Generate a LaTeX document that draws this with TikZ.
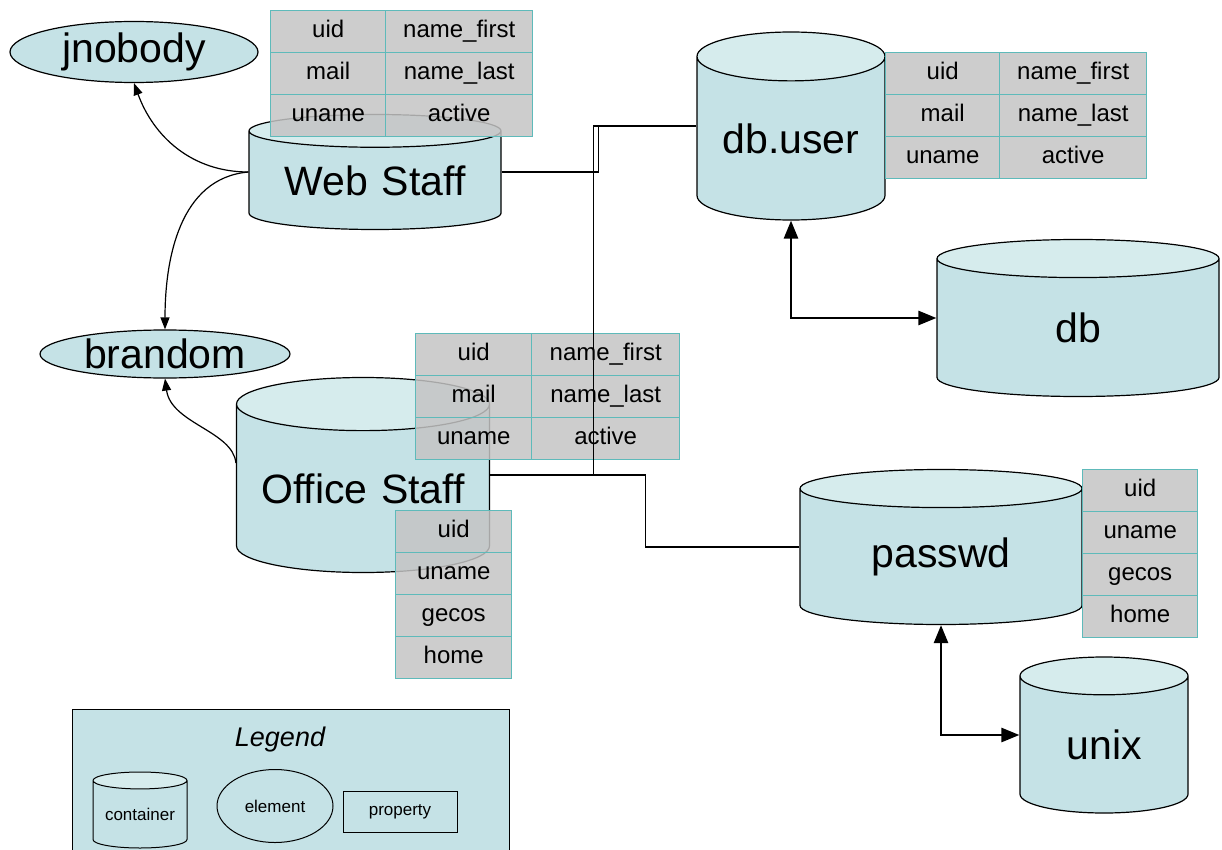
\documentclass[tikz,border=0pt]{standalone}
\usepackage{fontspec}
\setmainfont{Liberation Sans}
\usetikzlibrary{shapes.geometric,matrix,arrows.meta,positioning}
\definecolor{cylbody}{RGB}{197,226,230}
\definecolor{cylend}{RGB}{214,236,237}
\definecolor{cellgray}{RGB}{196,196,196}
\definecolor{cellline}{RGB}{94,186,186}
\tikzset{
  container/.style={cylinder, shape border rotate=90, draw, line width=1.2pt,
    cylinder uses custom fill, cylinder body fill=cylbody, cylinder end fill=cylend,
    inner sep=0pt, align=center, anchor=shape center,
    font=\fontsize{41}{41}\selectfont},
  element/.style={ellipse, draw, line width=1.2pt, fill=cylbody, inner sep=0pt,
    font=\fontsize{41}{41}\selectfont},
  cell/.style={draw=cellline, line width=1pt, fill=cellgray, fill opacity=0.85,
    text opacity=1, minimum height=42pt, inner sep=0pt, text height=17pt,
    text depth=5pt, font=\fontsize{24}{24}\selectfont},
  proptable/.style={matrix of nodes, inner sep=0pt, nodes={cell},
    column sep=-1pt, row sep=-1pt, anchor=north west},
  link/.style={line width=1.2pt},
  biglink/.style={line width=2.6pt,
    {Triangle[length=18pt,width=14pt]}-{Triangle[length=18pt,width=14pt]}},
}
\begin{document}
\begin{tikzpicture}[x=1pt,y=-1pt,>={Triangle[length=12pt,width=9pt]}]
  \useasboundingbox (0,0) rectangle (1222,850);
  % legend
  \node[draw, line width=1.2pt, fill=cylbody, minimum width=437pt, minimum height=170pt,
    anchor=north west] at (72,709) (legend) {};
  \node[font=\fontsize{27}{27}\selectfont\itshape] at (280,740) (legendtitle) {Legend};
  \node[container, minimum width=94pt, text width=94pt, minimum height=76pt, aspect=0.18,
    line width=1pt, font=\fontsize{17}{17}\selectfont] at (140,810) (lgcont) {container};
  \node[element, minimum width=116pt, minimum height=73pt, line width=1pt,
    font=\fontsize{17}{17}\selectfont] at (275,806) (lgelem) {element};
  \node[draw, line width=1pt, minimum width=114pt, minimum height=41pt,
    font=\fontsize{17}{17}\selectfont] at (400,812) (lgprop) {property};

  % containers
  \node[container, minimum width=252pt, text width=252pt, minimum height=115pt, aspect=0.13] at (375,172) (web) {Web Staff};
  \node[container, minimum width=253pt, text width=253pt, minimum height=195pt, aspect=0.21] at (363,475) (office) {Office Staff};
  \node[container, minimum width=188pt, text width=188pt, minimum height=188pt, aspect=0.26] at (791,126) (dbuser) {db.user};
  \node[container, minimum width=282pt, text width=282pt, minimum height=157pt, aspect=0.135] at (1078,318) (db) {db};
  \node[container, minimum width=282pt, text width=282pt, minimum height=155pt, aspect=0.135] at (941,547) (passwd) {passwd};
  \node[container, minimum width=168pt, text width=168pt, minimum height=156pt, aspect=0.225] at (1104,735) (unix) {unix};

  % elements
  \node[element, minimum width=248pt, minimum height=61pt] at (134,52) (jnobody) {jnobody};
  \node[element, minimum width=250pt, minimum height=48pt] at (165,354) (brandom) {brandom};

  % properties
  \matrix (webprops) [proptable, column 1/.style={nodes={minimum width=115pt}},
    column 2/.style={nodes={minimum width=147pt}}] at (270,10) {
    uid & name\_first \\ mail & name\_last \\ uname & active \\};
  \matrix (officeprops) [proptable, column 1/.style={nodes={minimum width=116pt}},
    column 2/.style={nodes={minimum width=148pt}}] at (415,333) {
    uid & name\_first \\ mail & name\_last \\ uname & active \\};
  \matrix (dbuserprops) [proptable, column 1/.style={nodes={minimum width=114pt}},
    column 2/.style={nodes={minimum width=147pt}}] at (885,52) {
    uid & name\_first \\ mail & name\_last \\ uname & active \\};
  \matrix (officeunix) [proptable, nodes={minimum width=116pt}] at (395,510) {
    uid \\ uname \\ gecos \\ home \\};
  \matrix (passwdprops) [proptable, nodes={minimum width=115pt}] at (1082,469) {
    uid \\ uname \\ gecos \\ home \\};

  % connectors
  \path (web.shape center -| web.west) edge[link, ->, out=180, in=-70] (jnobody.south);
  \path (web.shape center -| web.west) edge[link, ->, out=185, in=90] (brandom.north);
  \draw[link, ->] ([yshift=12pt]office.shape center -| office.west)
    .. controls +(-3,-32) and +(6,45) .. (brandom.south);
  \draw[link] (web.shape center -| web.east) -- ++(97,0) |- (dbuser.shape center -| dbuser.west);
  \draw[link] (office.shape center -| office.east) -- ++(103,0) |- (dbuser.shape center -| dbuser.west);
  \draw[link] (office.shape center -| office.east) -- ++(155,0) |- (passwd.shape center -| passwd.west);
  \draw[biglink] (dbuser.south) |- (db.shape center -| db.west);
  \draw[biglink] (passwd.south) |- (unix.shape center -| unix.west);
\end{tikzpicture}
\end{document}
